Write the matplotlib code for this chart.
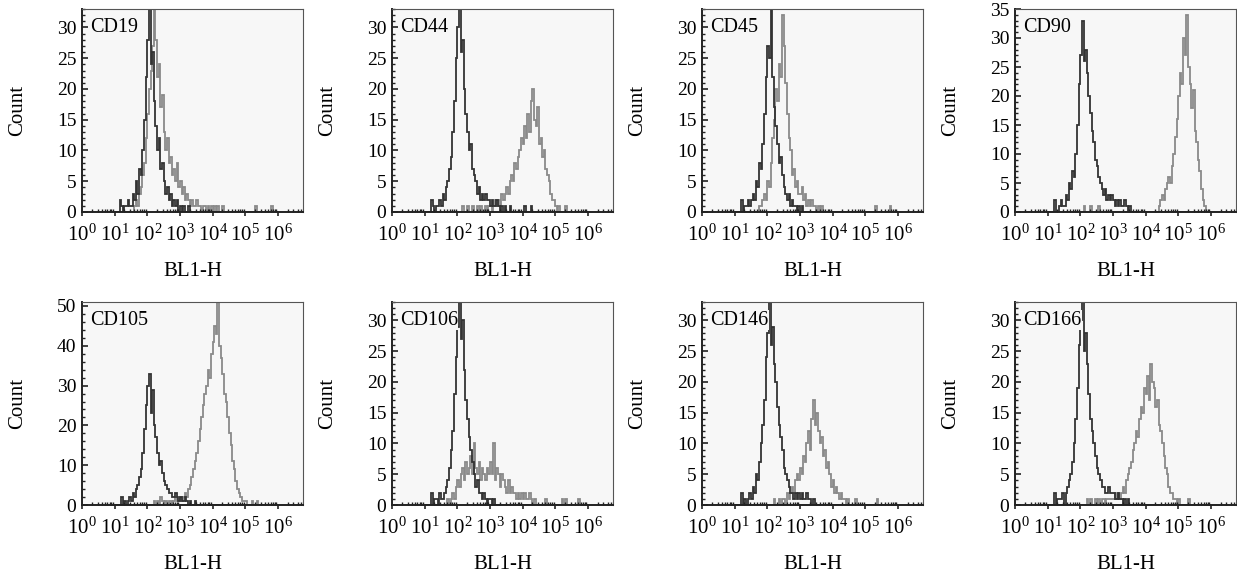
import numpy as np
import matplotlib
matplotlib.use("Agg")
import matplotlib.pyplot as plt
from matplotlib.ticker import MultipleLocator, LogLocator, LogFormatterMathtext

plt.rcParams['font.family'] = ['Liberation Serif', 'DejaVu Serif']
plt.rcParams['mathtext.fontset'] = 'custom'
plt.rcParams['mathtext.rm'] = 'Liberation Serif'
plt.rcParams['mathtext.it'] = 'Liberation Serif:italic'

# histogram bins: 20 bins per decade, 10^1 .. 10^6 (log10 of BL1-H)
bin_log_start = 1.0
bin_log_step = 0.05
n_bins = 100

markers = ["CD19", "CD44", "CD45", "CD90", "CD105", "CD106", "CD146", "CD166"]
y_max = [33, 33, 33, 35, 51, 33, 33, 33]
y_major = [5, 5, 5, 5, 10, 5, 5, 5]
y_minor = [1, 1, 1, 1, 2, 1, 1, 1]

# counts per bin, one row per decade (10^1-10^2, 10^2-10^3, ... 10^5-10^6)
cd19_iso = [0,0,0,2,1,0,1,1,2,1,1,3,2,5,3,7,6,10,15,22,
            28,33,24,26,18,14,10,12,7,8,5,3,4,2,3,1,2,1,2,0,
            1,0,1,0,0,1,0,0,0,0,0,0,0,0,0,0,0,0,0,0,
            0,0,0,0,0,0,0,0,0,0,0,0,0,0,0,0,0,0,0,0,
            0,0,0,0,0,0,0,0,0,0,0,0,0,0,0,0,0,0,0,0]
cd19_ab = [0,0,0,0,0,0,0,0,0,0,0,0,1,2,1,3,4,6,8,12,
           16,20,23,27,36,28,22,24,17,19,13,10,12,8,9,6,7,5,8,4,
           5,3,4,2,3,2,1,2,1,1,2,1,1,0,1,1,0,1,0,1,
           0,1,0,1,0,0,1,0,0,0,0,0,0,0,0,0,0,0,0,0,
           0,0,0,0,0,0,1,0,0,0,0,0,0,0,0,0,1,0,0,0]

cd44_iso = [0,0,0,0,2,1,0,1,1,2,1,3,2,4,5,7,9,13,18,25,
            30,40,26,28,20,16,13,10,11,7,6,5,3,4,2,3,2,3,2,2,
            1,2,1,1,2,1,0,1,0,1,0,0,1,0,0,0,0,0,0,0,
            0,1,0,0,0,1,0,0,0,0,0,0,0,0,0,0,0,0,0,0,
            0,0,0,0,0,0,0,0,0,0,0,0,0,0,0,0,0,0,0,0]
cd44_ab = [0,0,0,0,0,0,0,0,0,0,0,0,0,0,0,0,0,0,0,0,
           0,0,0,1,0,0,1,0,0,1,0,0,1,0,1,0,0,1,0,1,
           1,0,1,2,1,2,1,3,2,3,4,3,5,6,5,8,7,9,10,12,
           11,14,12,16,13,18,20,15,14,17,11,12,9,10,7,6,5,3,2,2,
           1,0,1,0,0,0,1,0,0,0,0,0,0,0,0,0,0,0,0,0]

cd45_iso = [0,0,0,0,2,0,1,1,2,1,2,3,2,5,4,8,7,11,16,22,
            27,25,40,22,17,14,11,8,9,6,4,3,2,3,1,2,1,1,0,1,
            0,1,0,0,0,0,0,0,0,0,0,0,0,0,0,0,0,0,0,0,
            0,0,0,0,0,0,0,0,0,0,0,0,0,0,0,0,0,0,0,0,
            0,0,0,0,0,0,0,0,0,0,0,0,0,0,0,0,0,0,0,0]
cd45_ab = [0,0,0,0,0,0,0,0,0,0,0,0,0,0,0,1,1,2,3,2,
           5,4,8,12,15,20,18,24,22,32,27,21,16,12,10,6,7,4,5,3,
           3,4,2,3,1,2,1,2,1,1,0,1,0,1,0,0,0,0,0,0,
           0,0,0,0,0,0,0,0,0,0,0,0,0,0,0,0,0,0,0,0,
           0,0,0,0,0,0,1,0,0,0,0,0,0,0,0,1,0,0,0,0]

cd90_iso = [0,0,0,0,2,0,0,1,2,1,1,3,2,5,4,7,6,10,15,22,
            27,33,26,28,24,20,17,14,12,9,8,6,5,4,3,4,2,3,2,3,
            2,1,2,1,2,1,1,2,1,0,1,0,0,0,0,0,0,0,0,0,
            0,0,0,0,0,0,0,0,0,0,0,0,0,0,0,0,0,0,0,0,
            0,0,0,0,0,0,0,0,0,0,0,0,0,0,0,0,0,0,0,0]
cd90_ab = [0,0,0,0,0,0,0,0,0,0,0,0,0,0,0,0,0,0,0,0,
           0,0,1,0,0,0,1,0,0,0,0,1,0,0,0,0,0,0,0,0,
           0,0,0,0,0,0,0,0,0,0,0,0,0,0,0,0,0,0,0,0,
           0,0,0,0,0,0,0,0,1,2,3,2,4,5,6,5,8,10,13,16,
           20,24,22,30,27,34,25,22,18,21,14,12,9,7,4,2,1,0,0,0]

cd105_iso = [0,0,0,0,2,0,1,0,1,2,1,3,2,4,5,7,9,13,19,25,
             30,33,23,29,20,17,13,10,11,8,6,5,4,3,3,2,2,3,2,1,
             2,1,1,2,1,0,1,0,0,1,0,0,0,0,0,0,0,0,0,0,
             0,0,0,0,0,0,0,0,0,0,0,0,0,0,0,0,0,0,0,0,
             0,0,0,0,0,0,0,0,0,0,0,0,0,0,0,0,0,0,0,0]
cd105_ab = [0,0,0,0,0,0,0,0,0,0,0,0,0,0,0,0,0,0,0,0,
            0,0,0,0,1,0,1,0,2,1,0,1,0,1,1,0,1,2,1,1,
            2,1,2,3,2,4,5,7,9,11,13,16,19,22,25,28,30,34,32,38,
            41,45,43,51,40,37,33,28,26,22,18,15,11,9,6,4,3,2,1,1,
            1,0,0,0,1,0,0,1,0,0,0,0,0,0,0,0,0,0,0,0]

cd106_iso = [0,0,0,0,2,0,1,1,0,2,1,1,2,3,4,6,9,12,18,24,
             29,40,27,30,22,17,14,11,9,7,5,3,4,2,2,1,2,1,0,1,
             1,0,1,0,0,0,0,0,0,0,0,0,0,0,0,0,0,0,0,0,
             0,0,0,0,0,0,0,0,0,0,0,0,0,0,0,0,0,0,0,0,
             0,0,0,0,0,0,0,0,0,0,0,0,0,0,0,0,0,0,0,0]
cd106_ab = [0,0,0,0,0,0,0,0,0,0,0,0,0,0,1,0,1,2,1,3,
            4,3,5,6,4,7,5,6,8,5,10,6,5,7,4,6,5,4,6,5,
            7,5,10,4,6,5,3,5,4,3,2,4,2,3,2,2,1,2,1,2,
            1,2,1,1,2,1,0,1,0,0,0,0,0,0,1,0,0,0,0,0,
            0,0,0,0,1,0,1,0,0,0,0,0,0,0,1,0,0,0,0,0]

cd146_iso = [0,0,0,0,2,0,1,0,1,2,1,3,2,5,4,7,10,13,17,24,
             28,40,26,29,23,20,16,13,11,9,6,5,4,3,2,2,1,2,1,2,
             1,2,1,1,2,1,1,0,1,0,0,0,0,0,0,0,0,0,0,0,
             0,0,0,0,0,0,0,0,0,0,0,0,0,0,0,0,0,0,0,0,
             0,0,0,0,0,0,0,0,0,0,0,0,0,0,0,0,0,0,0,0]
cd146_ab = [0,0,0,0,0,0,0,0,0,0,0,0,0,0,0,0,0,0,0,0,
            0,0,0,0,1,0,0,1,0,1,1,0,2,1,2,3,2,4,5,4,
            6,5,8,7,10,12,9,14,17,13,15,12,10,11,8,9,6,7,5,3,
            4,2,3,2,1,2,1,1,0,1,0,0,0,0,1,0,0,0,0,0,
            0,0,0,0,0,0,0,1,0,0,0,0,0,0,0,0,0,0,0,0]

cd166_iso = [0,0,0,0,2,0,1,1,1,2,0,2,3,4,5,7,10,14,19,26,
             30,40,25,28,23,18,14,12,10,8,6,5,4,3,3,2,2,3,2,2,
             2,1,1,2,1,1,0,1,0,1,0,0,0,0,0,0,0,0,0,0,
             0,0,0,0,0,0,0,0,0,0,0,0,0,0,0,0,0,0,0,0,
             0,0,0,0,0,0,0,0,0,0,0,0,0,0,0,0,0,0,0,0]
cd166_ab = [0,0,0,0,0,0,0,0,0,0,0,0,0,0,0,0,0,0,0,0,
            0,0,0,0,1,0,1,0,0,1,0,1,0,1,1,0,1,1,1,1,
            1,2,1,2,1,2,3,2,4,5,6,7,9,10,12,11,14,16,15,19,
            18,21,17,23,20,19,16,17,13,12,10,8,6,5,3,2,2,1,1,0,
            1,0,0,0,0,0,1,0,0,0,0,0,0,0,0,0,0,0,0,0]

isotype = [cd19_iso, cd44_iso, cd45_iso, cd90_iso, cd105_iso, cd106_iso, cd146_iso, cd166_iso]
antibody = [cd19_ab, cd44_ab, cd45_ab, cd90_ab, cd105_ab, cd106_ab, cd146_ab, cd166_ab]

edges = 10 ** (bin_log_start + bin_log_step * np.arange(n_bins + 1))

fig = plt.figure(figsize=(12.37, 5.77), dpi=100)
W, H = 1237, 577
col_left = [82, 392, 702, 1015]
row_top = [9, 302]
ax_w, ax_h = 221, 203

for i, name in enumerate(markers):
    r, c = divmod(i, 4)
    ax = fig.add_axes([col_left[c] / W, 1 - (row_top[r] + ax_h) / H, ax_w / W, ax_h / H])
    ax.set_facecolor('#f7f7f7')
    ax.stairs(antibody[i], edges, baseline=0, color='#8a8a8a', lw=1.3)
    ax.stairs(isotype[i], edges, baseline=0, color='#333333', lw=1.3)
    ax.set_xscale('log')
    ax.set_xlim(1, 10 ** 6.77)
    ax.set_ylim(0, y_max[i])
    ax.xaxis.set_major_locator(LogLocator(base=10, numticks=10))
    ax.xaxis.set_major_formatter(LogFormatterMathtext())
    ax.xaxis.set_minor_locator(LogLocator(base=10, subs=np.arange(2, 10), numticks=20))
    ax.yaxis.set_major_locator(MultipleLocator(y_major[i]))
    ax.yaxis.set_minor_locator(MultipleLocator(y_minor[i]))
    ax.tick_params(axis='y', which='major', direction='in', length=4, width=1.2, color='#222222',
                   labelsize=14, pad=4)
    ax.tick_params(axis='y', which='minor', direction='in', length=2.5, width=1, color='#222222')
    ax.tick_params(axis='x', which='major', direction='out', length=3, width=1.2, color='#222222',
                   labelsize=15, pad=6)
    ax.tick_params(axis='x', which='minor', direction='in', length=2.5, width=1, color='#222222')
    for s in ['left', 'bottom']:
        ax.spines[s].set_linewidth(1.4)
        ax.spines[s].set_color('#222222')
    for s in ['top', 'right']:
        ax.spines[s].set_linewidth(0.8)
        ax.spines[s].set_color('#555555')
    ax.set_ylabel('Count', fontsize=15)
    ax.yaxis.set_label_coords(-0.25, 0.5)
    ax.set_xlabel('BL1-H', fontsize=15)
    ax.xaxis.set_label_coords(0.5, -0.245)
    ax.text(0.035, 0.91, name, transform=ax.transAxes, fontsize=14.5, va='center', ha='left',
            bbox=dict(facecolor='#f7f7f7', edgecolor='none', pad=0.5), zorder=5)

fig.savefig('out.png', dpi=100)
